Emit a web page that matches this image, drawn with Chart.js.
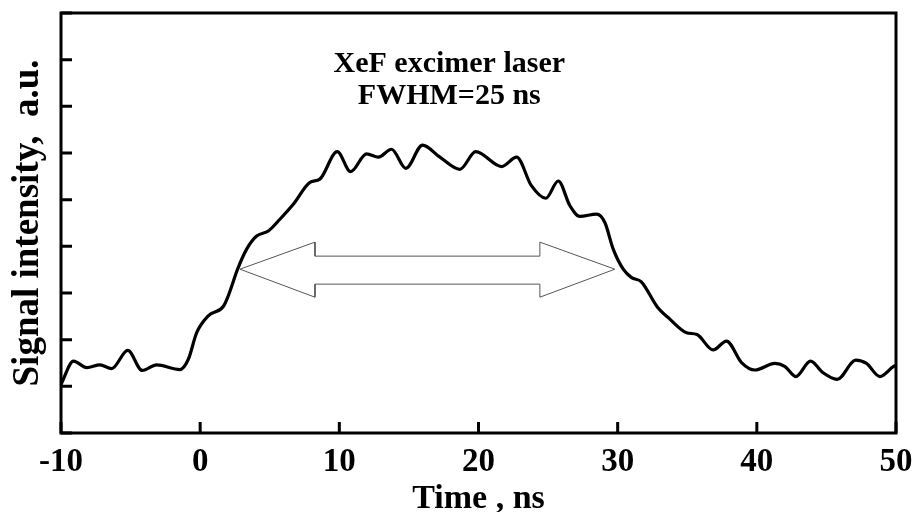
<!DOCTYPE html>
<html>
<head>
<meta charset="utf-8">
<script src="https://cdn.jsdelivr.net/npm/chart.js@4.4.0/dist/chart.umd.min.js"></script>
<style>
  html, body { margin: 0; padding: 0; background: #fff; }
  #wrap { width: 912px; height: 512px; }
</style>
</head>
<body>
<div id="wrap"><canvas id="myChart"></canvas></div>
<script>
// Laser pulse trace (time in ns, signal in a.u.)
const timeNs = [
    -10.0, -9.1, -8.15, -7.2, -6.36, -5.2, -4.16, -3.13, -1.45, -0.85,
    -0.25, 0.58, 1.66, 2.02, 2.69, 3.34, 4.06, 4.9, 5.73, 6.69,
    7.89, 8.6, 9.85, 10.81, 11.96, 12.8, 13.75, 14.78, 15.98, 17.23,
    18.66, 19.8, 21.66, 22.74, 23.8, 24.84, 25.73, 26.57, 27.29, 28.48,
    29.08, 29.68, 30.4, 31.0, 31.7, 32.85, 33.75, 34.95, 35.7, 36.86,
    37.82, 38.9, 39.86, 41.3, 42.0, 42.8, 43.86, 44.76, 45.77, 47.11,
    47.88, 48.84, 49.8, 50.0
];
const signal = [
    1.04, 1.54, 1.40, 1.46, 1.38, 1.77, 1.34, 1.46, 1.36, 1.58,
    2.15, 2.51, 2.71, 2.94, 3.51, 3.94, 4.22, 4.33, 4.58, 4.90,
    5.37, 5.44, 6.03, 5.60, 5.98, 5.91, 6.08, 5.67, 6.17, 5.91,
    5.65, 6.03, 5.71, 5.91, 5.30, 5.03, 5.40, 4.87, 4.64, 4.69,
    4.51, 3.94, 3.51, 3.33, 3.24, 2.70, 2.44, 2.15, 2.11, 1.78,
    1.97, 1.51, 1.35, 1.49, 1.43, 1.21, 1.54, 1.29, 1.15, 1.56,
    1.49, 1.21, 1.42, 1.45
];

// FWHM double arrow outline (data units)
const arrowX = [2.86, 8.25, 8.25, 24.41, 24.41, 29.8, 24.41, 24.41, 8.25, 8.25, 2.86];
const arrowY = [3.51, 4.09, 3.79, 3.79, 4.09, 3.51, 2.91, 3.19, 3.19, 2.91, 3.51];

const xTicks = [-10, 0, 10, 20, 30, 40, 50];
const noteLines = ['XeF excimer laser', 'FWHM=25 ns'];
const noteX = 17.9;
const noteY = [7.74, 7.06];

const serif = "'Liberation Serif', 'Times New Roman', serif";

// frame, inward ticks and the text note
const framePlugin = {
    id: 'frame',
    afterDatasetsDraw(chart) {
        const { ctx, chartArea: a, scales } = chart;
        ctx.save();
        ctx.strokeStyle = '#000';
        ctx.lineWidth = 3;
        ctx.beginPath();
        scales.x.ticks.forEach(t => {
            const px = scales.x.getPixelForValue(t.value);
            ctx.moveTo(px, a.bottom);
            ctx.lineTo(px, a.bottom - 11);
        });
        scales.y.ticks.forEach(t => {
            const py = scales.y.getPixelForValue(t.value);
            ctx.moveTo(a.left, py);
            ctx.lineTo(a.left + 11, py);
        });
        ctx.stroke();
        ctx.strokeRect(a.left, a.top, a.right - a.left, a.bottom - a.top);

        ctx.fillStyle = '#000';
        ctx.font = 'bold 30px ' + serif;
        ctx.textAlign = 'center';
        ctx.textBaseline = 'alphabetic';
        noteLines.forEach((s, i) => {
            ctx.fillText(s, scales.x.getPixelForValue(noteX), scales.y.getPixelForValue(noteY[i]));
        });
        ctx.restore();
    }
};

new Chart(document.getElementById('myChart'), {
    type: 'scatter',
    data: {
        datasets: [{
            label: 'Signal',
            data: timeNs.map((t, i) => ({ x: t, y: signal[i] })),
            showLine: true,
            borderColor: '#000',
            borderWidth: 3.2,
            pointRadius: 0,
            cubicInterpolationMode: 'monotone',
            order: 1
        }, {
            label: 'FWHM',
            data: arrowX.map((x, i) => ({ x: x, y: arrowY[i] })),
            showLine: true,
            borderColor: '#555',
            borderWidth: 1,
            pointRadius: 0,
            tension: 0,
            order: 2
        }]
    },
    options: {
        responsive: true,
        maintainAspectRatio: false,
        animation: false,
        layout: { padding: { left: 0, right: 0, top: 13, bottom: 0 } },
        plugins: {
            legend: { display: false },
            tooltip: { enabled: false }
        },
        scales: {
            x: {
                type: 'linear',
                min: -10,
                max: 50,
                afterBuildTicks: s => { s.ticks = xTicks.map(v => ({ value: v })); },
                afterFit: s => {
                    s.height = 79;
                    s.paddingLeft = 0;
                    s.paddingRight = 16;
                },
                grid: { display: false },
                border: { display: false },
                ticks: {
                    color: '#000',
                    padding: 2,
                    maxRotation: 0,
                    font: { family: serif, size: 33, weight: 'bold' }
                },
                title: {
                    display: true,
                    text: 'Time , ns',
                    color: '#000',
                    padding: { top: 0, bottom: -8 },
                    font: { family: serif, size: 34, weight: 'bold' }
                }
            },
            y: {
                min: 0,
                max: 9,
                afterFit: s => { s.width = 61; },
                grid: { display: false },
                border: { display: false },
                ticks: { display: false, stepSize: 1 },
                title: {
                    display: true,
                    text: 'Signal intensity,  a.u.',
                    color: '#000',
                    padding: { top: 6, bottom: 0 },
                    font: { family: serif, size: 37, weight: 'bold' }
                }
            }
        }
    },
    plugins: [framePlugin]
});
</script>
</body>
</html>
